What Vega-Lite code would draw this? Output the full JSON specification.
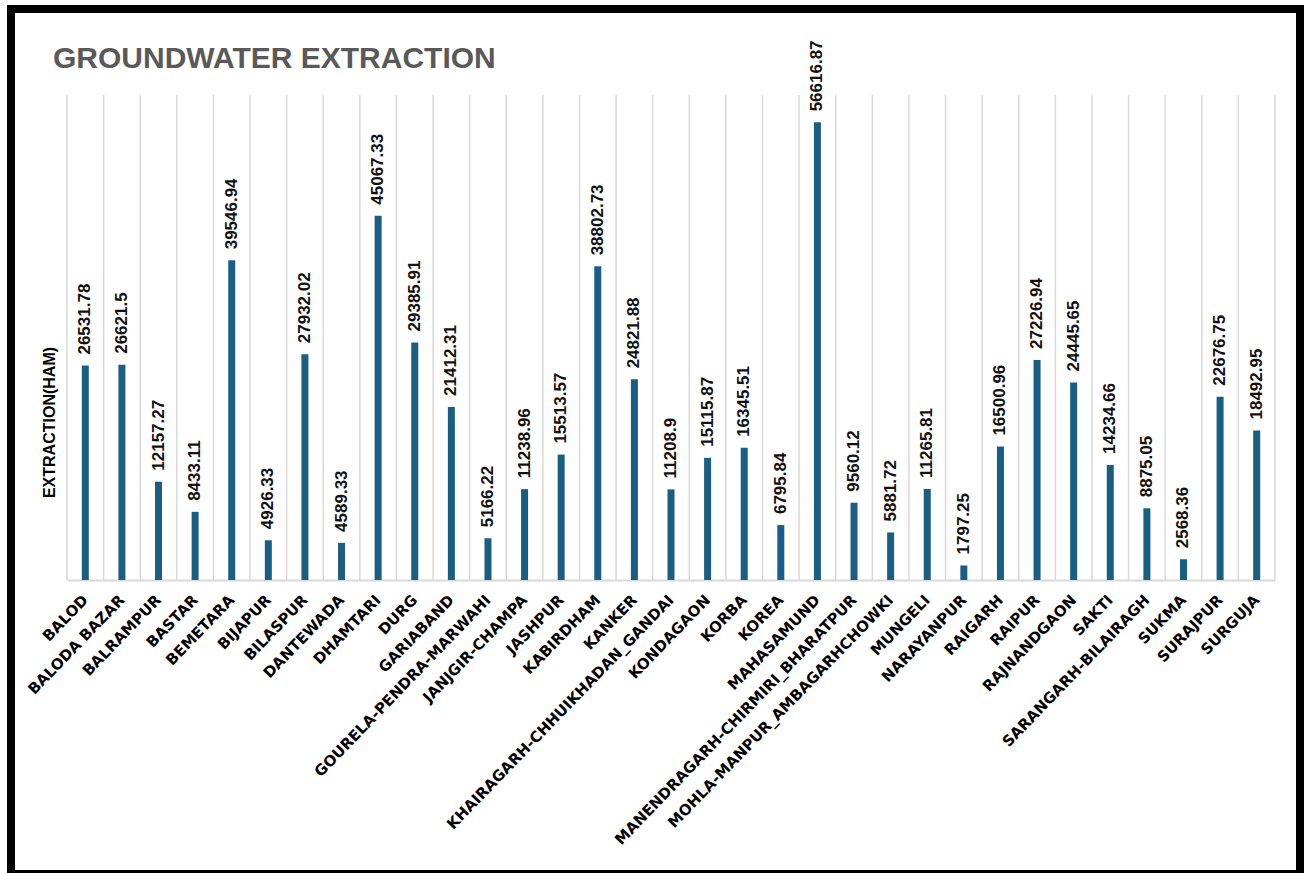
{
  "$schema": "https://vega.github.io/schema/vega-lite/v6.json",
  "width": 1289,
  "height": 865,
  "autosize": {"type": "none"},
  "padding": {"left": 11, "top": 9, "right": 5, "bottom": 0},
  "background": "white",
  "title": {
    "text": "GROUNDWATER EXTRACTION",
    "anchor": "start",
    "frame": "group",
    "orient": "top",
    "offset": -89,
    "dx": 42,
    "baseline": "alphabetic",
    "font": "Liberation Sans",
    "fontSize": 30,
    "fontWeight": "bold",
    "color": "#595959"
  },
  "config": {"view": {"stroke": "#000000", "strokeWidth": 8, "fill": "white"}},
  "data": {
    "values": [
      {"district": "BALOD", "value": 26531.78},
      {"district": "BALODA BAZAR", "value": 26621.5},
      {"district": "BALRAMPUR", "value": 12157.27},
      {"district": "BASTAR", "value": 8433.11},
      {"district": "BEMETARA", "value": 39546.94},
      {"district": "BIJAPUR", "value": 4926.33},
      {"district": "BILASPUR", "value": 27932.02},
      {"district": "DANTEWADA", "value": 4589.33},
      {"district": "DHAMTARI", "value": 45067.33},
      {"district": "DURG", "value": 29385.91},
      {"district": "GARIABAND", "value": 21412.31},
      {"district": "GOURELA-PENDRA-MARWAHI", "value": 5166.22},
      {"district": "JANJGIR-CHAMPA", "value": 11238.96},
      {"district": "JASHPUR", "value": 15513.57},
      {"district": "KABIRDHAM", "value": 38802.73},
      {"district": "KANKER", "value": 24821.88},
      {"district": "KHAIRAGARH-CHHUIKHADAN_GANDAI", "value": 11208.9},
      {"district": "KONDAGAON", "value": 15115.87},
      {"district": "KORBA", "value": 16345.51},
      {"district": "KOREA", "value": 6795.84},
      {"district": "MAHASAMUND", "value": 56616.87},
      {"district": "MANENDRAGARH-CHIRMIRI_BHARATPUR", "value": 9560.12},
      {"district": "MOHLA-MANPUR_AMBAGARHCHOWKI", "value": 5881.72},
      {"district": "MUNGELI", "value": 11265.81},
      {"district": "NARAYANPUR", "value": 1797.25},
      {"district": "RAIGARH", "value": 16500.96},
      {"district": "RAIPUR", "value": 27226.94},
      {"district": "RAJNANDGAON", "value": 24445.65},
      {"district": "SAKTI", "value": 14234.66},
      {"district": "SARANGARH-BILAIRAGH", "value": 8875.05},
      {"district": "SUKMA", "value": 2568.36},
      {"district": "SURAJPUR", "value": 22676.75},
      {"district": "SURGUJA", "value": 18492.95}
    ]
  },
  "encoding": {
    "x": {
      "field": "district",
      "type": "nominal",
      "sort": null,
      "scale": {"type": "band", "range": [56, 1264], "paddingInner": 0, "paddingOuter": 0},
      "axis": {
        "title": null,
        "offset": -294,
        "ticks": false,
        "grid": false,
        "domainColor": "#d9d9d9",
        "domainWidth": 2,
        "labelAngle": -46,
        "labelAlign": "right",
        "labelBaseline": "middle",
        "labelPadding": 17,
        "labelFont": "DejaVu Sans",
        "labelFontWeight": "bold",
        "labelFontSize": 15,
        "labelColor": "#000000",
        "labelLimit": 0,
        "labelOverlap": false
      }
    },
    "y": {
      "field": "value",
      "type": "quantitative",
      "scale": {"domain": [0, 60000], "range": [571, 86], "nice": false, "zero": true},
      "axis": {
        "title": "EXTRACTION(HAM)",
        "labels": false,
        "ticks": false,
        "domain": false,
        "grid": false,
        "titleFont": "Liberation Sans",
        "titleFontSize": 16,
        "titleFontWeight": "bold",
        "titleColor": "#000000",
        "titleAngle": 270,
        "titleAlign": "center",
        "titleBaseline": "middle",
        "titleX": 38,
        "titleY": 413
      }
    }
  },
  "layer": [
    {
      "mark": {"type": "rule", "color": "#d9d9d9", "strokeWidth": 1.5},
      "encoding": {
        "x": {"field": "district", "type": "nominal", "sort": null, "bandPosition": 0},
        "y": {"datum": 0, "type": "quantitative"},
        "y2": {"datum": 60000}
      }
    },
    {
      "transform": [{"filter": "datum.district === 'SURGUJA'"}],
      "mark": {"type": "rule", "color": "#d9d9d9", "strokeWidth": 1.5},
      "encoding": {
        "x": {"field": "district", "type": "nominal", "sort": null, "bandPosition": 1},
        "y": {"datum": 0, "type": "quantitative"},
        "y2": {"datum": 60000}
      }
    },
    {
      "mark": {"type": "bar", "width": 7, "color": "#1b5e83"}
    },
    {
      "mark": {
        "type": "text",
        "angle": 270,
        "align": "left",
        "baseline": "middle",
        "dx": 11,
        "font": "Liberation Sans",
        "fontSize": 17,
        "fontWeight": "bold",
        "color": "#111111"
      },
      "encoding": {
        "text": {"field": "value", "type": "quantitative", "format": ".2~f"}
      }
    }
  ]
}
